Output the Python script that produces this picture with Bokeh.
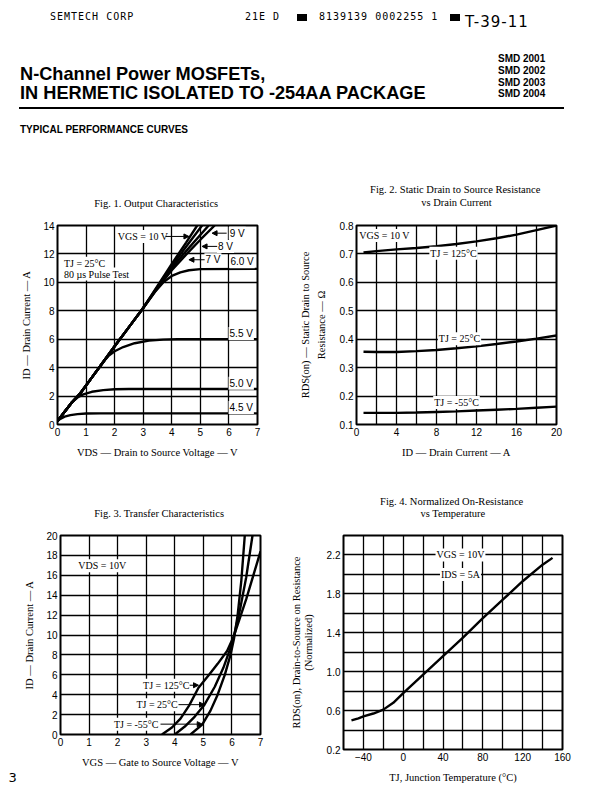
from bokeh.plotting import figure
from bokeh.models import (Range1d, FixedTicker, Label, Arrow, NormalHead, Title,
                          LinearAxis, Div, PrintfTickFormatter)
from bokeh.layouts import column, row
from bokeh.embed import file_html
from bokeh.resources import INLINE

SERIF = "Liberation Serif"
SANS = "Liberation Sans"

# ---------------- Fig. 1 data : Output characteristics (VDS, ID) ----------------
f1_vds_45 = [0, 0.1, 0.25, 0.45, 0.7, 1.0, 1.5, 7.0]
f1_id_45 = [0.25, 0.4, 0.55, 0.66, 0.73, 0.77, 0.78, 0.78]
f1_vds_50 = [0, 0.25, 0.5, 0.7, 0.9, 1.2, 1.6, 2.0, 2.5, 7.0]
f1_id_50 = [0.25, 0.9, 1.55, 1.9, 2.12, 2.3, 2.42, 2.48, 2.5, 2.5]
f1_vds_55 = [0, 0.25, 0.5, 0.8, 1.2, 1.6, 1.8, 2.0, 2.3, 2.7, 3.2, 3.7, 4.2, 7.0]
f1_id_55 = [0.25, 0.9, 1.55, 2.2, 3.3, 4.4, 4.85, 5.15, 5.45, 5.72, 5.9, 5.97, 6.0, 6.0]
f1_vds_60 = [0, 0.25, 0.5, 0.8, 1.2, 1.6, 2.0, 2.5, 3.0, 3.4, 3.7, 4.0, 4.3, 4.6, 5.0, 7.0]
f1_id_60 = [0.25, 0.9, 1.55, 2.2, 3.3, 4.4, 5.5, 6.85, 8.2, 9.3, 10.0, 10.45, 10.7, 10.85, 10.93, 10.95]
f1_vds_7 = [0, 0.25, 0.5, 0.8, 1.2, 1.6, 2.0, 2.5, 3.0, 3.5, 4.0, 4.5, 5.0, 5.5]
f1_id_7 = [0.25, 0.9, 1.55, 2.2, 3.3, 4.4, 5.5, 6.85, 8.2, 9.6, 10.85, 11.95, 13.0, 14.0]
f1_vds_8 = [0, 0.25, 0.5, 0.8, 1.2, 1.6, 2.0, 2.5, 3.0, 3.5, 4.0, 4.5, 5.29]
f1_id_8 = [0.25, 0.9, 1.55, 2.2, 3.3, 4.4, 5.5, 6.85, 8.2, 9.65, 11.0, 12.2, 14.0]
f1_vds_9 = [0, 0.25, 0.5, 0.8, 1.2, 1.6, 2.0, 2.5, 3.0, 3.5, 4.0, 4.5, 5.06]
f1_id_9 = [0.25, 0.9, 1.55, 2.2, 3.3, 4.4, 5.5, 6.85, 8.2, 9.7, 11.15, 12.5, 14.0]
f1_vds_10 = [0, 0.25, 0.5, 0.8, 1.2, 1.6, 2.0, 2.5, 3.0, 3.5, 4.0, 4.5, 4.89]
f1_id_10 = [0.25, 0.9, 1.55, 2.2, 3.3, 4.4, 5.5, 6.85, 8.2, 9.75, 11.3, 12.8, 14.0]
f1_x_ticks = [0, 1, 2, 3, 4, 5, 6, 7]
f1_y_ticks = [0, 2, 4, 6, 8, 10, 12, 14]

# ---------------- Fig. 2 data : RDS(on) vs ID ----------------
f2_id = [0.7, 2, 4, 6, 8, 10, 12, 14, 16, 18, 20]
f2_r_125 = [0.705, 0.710, 0.716, 0.721, 0.727, 0.735, 0.744, 0.755, 0.768, 0.784, 0.800]
f2_r_25 = [0.356, 0.355, 0.355, 0.358, 0.362, 0.368, 0.375, 0.383, 0.392, 0.402, 0.413]
f2_r_m55 = [0.141, 0.141, 0.141, 0.142, 0.144, 0.146, 0.149, 0.152, 0.155, 0.159, 0.163]
f2_x_ticks = [0, 4, 8, 12, 16, 20]
f2_x_grid = [0, 2, 4, 6, 8, 10, 12, 14, 16, 18, 20]
f2_y_ticks = [0.1, 0.2, 0.3, 0.4, 0.5, 0.6, 0.7, 0.8]

# ---------------- Fig. 3 data : Transfer characteristics ----------------
f3_vgs_125 = [3.55, 3.9, 4.2, 4.5, 4.83, 5.2, 5.5, 5.83, 6.07, 6.5, 7.0]
f3_id_125 = [0.0, 0.7, 1.6, 2.9, 4.7, 6.0, 7.1, 8.4, 9.9, 13.6, 18.4]
f3_vgs_25 = [4.0, 4.35, 4.7, 5.04, 5.4, 5.7, 5.95, 6.07, 6.3, 6.5, 6.72]
f3_id_25 = [0.0, 0.8, 1.8, 3.0, 4.8, 6.7, 8.7, 9.9, 12.8, 15.8, 20.0]
f3_vgs_m55 = [4.55, 4.96, 5.25, 5.5, 5.75, 5.95, 6.07, 6.2, 6.33, 6.45]
f3_id_m55 = [0.0, 1.0, 2.4, 4.0, 6.0, 8.0, 9.6, 12.0, 15.5, 20.0]
f3_x_ticks = [0, 1, 2, 3, 4, 5, 6, 7]
f3_y_ticks = [0, 2, 4, 6, 8, 10, 12, 14, 16, 18, 20]

# ---------------- Fig. 4 data : normalized RDS(on) vs TJ ----------------
f4_tj = [-52, -45, -40, -30, -20, -10, 0, 10, 20, 40, 60, 80, 100, 120, 140, 150]
f4_rn = [0.50, 0.52, 0.54, 0.57, 0.61, 0.68, 0.78, 0.875, 0.97, 1.16, 1.35, 1.55, 1.74, 1.93, 2.10, 2.17]
f4_x_ticks = [-40, 0, 40, 80, 120, 160]
f4_x_grid = [-60, -40, -20, 0, 20, 40, 60, 80, 100, 120, 140, 160]
f4_y_ticks = [0.2, 0.6, 1.0, 1.4, 1.8, 2.2]
f4_y_grid = [0.2, 0.4, 0.6, 0.8, 1.0, 1.2, 1.4, 1.6, 1.8, 2.0, 2.2, 2.4]

# ---------------- annotation texts and anchor positions ----------------
f1_labels = ["VGS = 10 V", "TJ = 25°C", "80 µs Pulse Test"]
f1_label_x = [2.99, 0.19, 0.19]
f1_label_y = [13.23, 11.35, 10.58]
f1_vlabels = ["9 V", "8 V", "7 V", "6.0 V", "5.5 V", "5.0 V", "4.5 V"]
f1_vlabel_x = [6.29, 5.88, 5.44, 6.46, 6.43, 6.43, 6.43]
f1_vlabel_y = [13.46, 12.53, 11.59, 11.45, 6.4, 2.91, 1.2]
f1_arrow_x0 = [3.78, 5.92, 5.59, 5.15]
f1_arrow_x1 = [4.60, 5.41, 5.06, 4.60]
f1_arrow_y = [13.23, 13.46, 12.53, 11.59]

f2_labels = ["VGS = 10 V", "TJ = 125°C", "TJ = 25°C", "TJ = -55°C"]
f2_label_x = [2.8, 9.7, 10.3, 10.0]
f2_label_y = [0.765, 0.702, 0.402, 0.177]

f3_labels = ["VDS = 10V", "TJ = 125°C", "TJ = 25°C", "TJ = -55°C"]
f3_label_x = [1.46, 3.70, 3.38, 2.65]
f3_label_y = [16.95, 4.95, 3.0, 1.04]
f3_arrow_x0 = [4.52, 4.13, 3.50]
f3_arrow_x1 = [4.83, 5.04, 4.96]
f3_arrow_y = [4.95, 3.0, 1.04]

f4_labels = ["VGS = 10V", "IDS = 5A"]
f4_label_x = [57.5, 57.5]
f4_label_y = [2.2, 2.0]


def style_axis(ax):
    ax.axis_line_color = None
    ax.major_tick_line_color = None
    ax.minor_tick_line_color = None
    ax.major_tick_out = 0
    ax.major_tick_in = 0
    ax.major_label_text_font = SANS
    ax.major_label_text_font_size = "10px"
    ax.major_label_text_color = "black"
    ax.axis_label_text_font = SERIF
    ax.axis_label_text_font_size = "10.5px"
    ax.axis_label_text_font_style = "normal"
    ax.axis_label_text_color = "black"
    ax.major_label_standoff = 3
    ax.axis_label_standoff = 8


def make_fig(xr, yr, fw, fh, bl, br, bt, bb, xticks, yticks, xgrid=None, ygrid=None):
    p = figure(x_range=Range1d(*xr), y_range=Range1d(*yr),
               frame_width=fw, frame_height=fh,
               min_border_left=bl, min_border_right=br,
               min_border_top=bt, min_border_bottom=bb,
               output_backend="svg", toolbar_location=None, title=None)
    p.outline_line_color = "black"
    p.outline_line_width = 2
    p.outline_line_alpha = 1
    p.background_fill_color = "white"
    p.border_fill_color = "white"
    p.xaxis.ticker = FixedTicker(ticks=xticks)
    p.yaxis.ticker = FixedTicker(ticks=yticks)
    p.xgrid.ticker = FixedTicker(ticks=xgrid if xgrid else xticks)
    p.ygrid.ticker = FixedTicker(ticks=ygrid if ygrid else yticks)
    for ax in (p.xaxis[0], p.yaxis[0]):
        style_axis(ax)
    p.grid.grid_line_color = "black"
    p.grid.grid_line_width = 1.3
    p.grid.grid_line_alpha = 1
    return p


def add_title(p, text, standoff, offset):
    p.add_layout(Title(text=text, align="center", text_font=SERIF,
                       text_font_size="10.5px", text_font_style="normal",
                       text_color="black", standoff=standoff, offset=offset), "above")


def add_outer_label(p, text, standoff):
    ax = LinearAxis(axis_label=text, ticker=FixedTicker(ticks=[]))
    style_axis(ax)
    ax.axis_label_standoff = standoff
    p.add_layout(ax, "left")


def label(p, x, y, text, font=SERIF, align="center", size="10px", bg=True):
    p.add_layout(Label(x=x, y=y, text=text, text_font=font, text_font_size=size,
                       text_align=align, text_baseline="middle", text_color="black",
                       background_fill_color="white" if bg else None, padding=1))


def arrow(p, x0, y0, x1, y1):
    p.add_layout(Arrow(end=NormalHead(size=5, fill_color="black", line_color="black"),
                       x_start=x0, y_start=y0, x_end=x1, y_end=y1,
                       line_color="black", line_width=1))


LW = 2.4

# ---------------- Fig 1 ----------------
f1 = make_fig((0, 7), (0, 14), 200, 199, 57, 25, 65, 48, f1_x_ticks, f1_y_ticks)
f1.xaxis.axis_label = "VDS — Drain to Source Voltage — V"
f1.yaxis.axis_label = "ID — Drain Current — A"
add_title(f1, "Fig. 1.  Output Characteristics", 34, 5)
for xs, ys in [(f1_vds_45, f1_id_45), (f1_vds_50, f1_id_50), (f1_vds_55, f1_id_55),
               (f1_vds_60, f1_id_60), (f1_vds_7, f1_id_7), (f1_vds_8, f1_id_8),
               (f1_vds_9, f1_id_9), (f1_vds_10, f1_id_10)]:
    f1.line(xs, ys, line_color="black", line_width=LW)
label(f1, f1_label_x[0], f1_label_y[0], f1_labels[0])
label(f1, f1_label_x[1], f1_label_y[1], f1_labels[1], align="left")
label(f1, f1_label_x[2], f1_label_y[2], f1_labels[2], align="left")
for i, t in enumerate(f1_vlabels):
    label(f1, f1_vlabel_x[i], f1_vlabel_y[i], t, font=SANS)
for i in range(len(f1_arrow_y)):
    arrow(f1, f1_arrow_x0[i], f1_arrow_y[i], f1_arrow_x1[i], f1_arrow_y[i])

# ---------------- Fig 2 ----------------
f2 = make_fig((0, 20), (0.1, 0.8), 200, 199, 74, 42, 65, 48, f2_x_ticks, f2_y_ticks,
              xgrid=f2_x_grid)
f2.xaxis.axis_label = "ID — Drain Current — A"
f2.yaxis.axis_label = "Resistance — Ω"
f2.yaxis.axis_label_standoff = 10
add_outer_label(f2, "RDS(on) — Static Drain to Source", 2)
add_title(f2, "vs Drain Current", 36, 7)
add_title(f2, "Fig. 2.  Static Drain to Source Resistance", -37, 5)
for ys in (f2_r_125, f2_r_25, f2_r_m55):
    f2.line(f2_id, ys, line_color="black", line_width=LW)
for i, t in enumerate(f2_labels):
    label(f2, f2_label_x[i], f2_label_y[i], t)

# ---------------- Fig 3 ----------------
f3 = make_fig((0, 7), (0, 20), 200, 199, 60, 22, 63, 52, f3_x_ticks, f3_y_ticks)
f3.xaxis.axis_label = "VGS — Gate to Source Voltage — V"
f3.yaxis.axis_label = "ID — Drain Current — A"
add_title(f3, "Fig. 3.  Transfer Characteristics", 34, 6)
for xs, ys in [(f3_vgs_125, f3_id_125), (f3_vgs_25, f3_id_25), (f3_vgs_m55, f3_id_m55)]:
    f3.line(xs, ys, line_color="black", line_width=LW)
for i, t in enumerate(f3_labels):
    label(f3, f3_label_x[i], f3_label_y[i], t)
for i in range(len(f3_arrow_y)):
    arrow(f3, f3_arrow_x0[i], f3_arrow_y[i], f3_arrow_x1[i], f3_arrow_y[i])
f3.add_layout(Title(text="3", align="left", offset=-52, standoff=0,
                    text_font="DejaVu Sans", text_font_size="13px",
                    text_font_style="normal", text_color="black"), "below")

# ---------------- Fig 4 ----------------
f4 = make_fig((-60, 160), (0.2, 2.4), 219, 214, 61, 36, 63, 37, f4_x_ticks, f4_y_ticks,
              xgrid=f4_x_grid, ygrid=f4_y_grid)
f4.yaxis[0].formatter = PrintfTickFormatter(format="%.1f")
f4.xaxis.axis_label = "TJ, Junction Temperature (°C)"
f4.yaxis[0].axis_label = "(Normalized)"
f4.yaxis[0].axis_label_standoff = 10
add_outer_label(f4, "RDS(on), Drain-to-Source on Resistance", -2)
add_title(f4, "vs Temperature", 34, 5)
add_title(f4, "Fig. 4.  Normalized On-Resistance", -36, 5)
f4.line(f4_tj, f4_rn, line_color="black", line_width=LW)
for i, t in enumerate(f4_labels):
    label(f4, f4_label_x[i], f4_label_y[i], t)

# ---------------- page header ----------------
mono = "font-family:'DejaVu Sans Mono',monospace;font-size:10px;letter-spacing:1px;"
sansb = "font-family:'Liberation Sans',Arial,sans-serif;font-weight:bold;"
sp = "position:absolute;line-height:1;white-space:nowrap;color:black;"
header_html = (
    '<div style="position:relative;width:598px;height:150px;background:white;">'
    f'<span style="{sp}{mono}left:45px;top:7px;">SEMTECH CORP</span>'
    f'<span style="{sp}{mono}left:240px;top:7px;">21E D</span>'
    '<span style="position:absolute;left:292px;top:9px;width:10px;height:7px;background:black;"></span>'
    f'<span style="{sp}{mono}left:314px;top:7px;">8139139 0002255 1</span>'
    '<span style="position:absolute;left:445px;top:9px;width:10px;height:7px;background:black;"></span>'
    f'<span style="{sp}font-family:\'DejaVu Sans\',sans-serif;font-size:15px;letter-spacing:1px;left:460px;top:10px;">T-39-11</span>'
    f'<span style="{sp}{sansb}font-size:18.2px;left:15px;top:60px;">N-Channel Power MOSFETs,</span>'
    f'<span style="{sp}{sansb}font-size:18.2px;left:15px;top:78.5px;">IN HERMETIC ISOLATED TO -254AA PACKAGE</span>'
    f'<span style="{sp}{sansb}font-size:10px;left:493px;top:49px;">SMD 2001</span>'
    f'<span style="{sp}{sansb}font-size:10px;left:493px;top:61px;">SMD 2002</span>'
    f'<span style="{sp}{sansb}font-size:10px;left:493px;top:73px;">SMD 2003</span>'
    f'<span style="{sp}{sansb}font-size:10px;left:493px;top:84px;">SMD 2004</span>'
    '<div style="position:absolute;left:14px;top:102px;width:545px;height:0;border-top:2px solid black;"></div>'
    f'<span style="{sp}{sansb}font-size:10px;left:15px;top:120px;">TYPICAL PERFORMANCE CURVES</span>'
    '</div>'
)
header = Div(text=header_html, width=598, height=150)

layout = column(header, row(f1, f2), row(f3, f4))
open("out.html", "w").write(file_html(layout, INLINE))
